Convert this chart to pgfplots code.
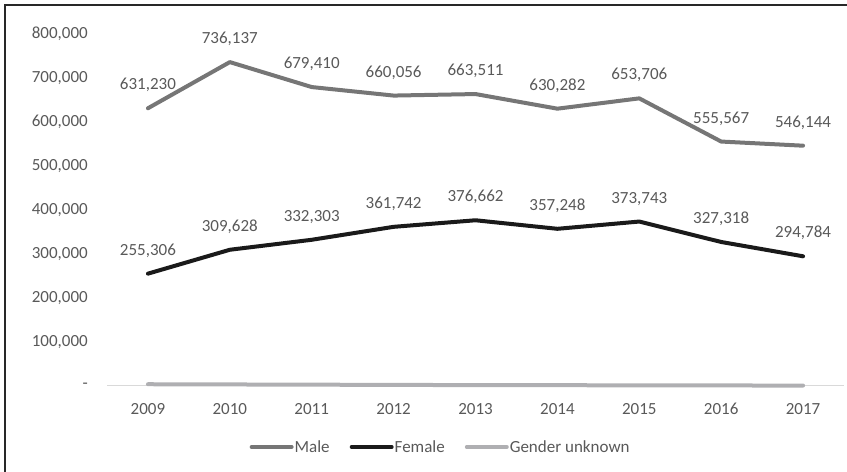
\documentclass[border=0pt]{standalone}
\usepackage{fontspec}
\setmainfont{Carlito}
\usepackage{pgfplots}
\pgfplotsset{compat=1.18}

\definecolor{maleC}{RGB}{118,118,118}
\definecolor{femaleC}{RGB}{26,26,26}
\definecolor{unkC}{RGB}{175,175,178}
\definecolor{txtC}{RGB}{89,89,89}
\definecolor{axC}{RGB}{217,217,217}
\definecolor{frameC}{RGB}{40,40,40}

\newcommand{\lbl}{\fontsize{17bp}{20bp}\selectfont}

\begin{document}
\begin{tikzpicture}[x=1bp,y=1bp]
\useasboundingbox (0,0) rectangle (847,472);
\draw[frameC, line width=1.5bp] (5,0) -- (5,467) -- (847,467);
\begin{axis}[
    at={(107bp,86bp)}, anchor=south west,
    width=737bp, height=352bp, scale only axis,
    xmin=-0.5, xmax=8.5,
    ymin=0, ymax=800000,
    xtick={0,1,2,3,4,5,6,7,8},
    xticklabels={2009,2010,2011,2012,2013,2014,2015,2016,2017},
    ytick={0,100000,200000,300000,400000,500000,600000,700000,800000},
    yticklabels={{-\hspace{9bp}},{100,000},{200,000},{300,000},{400,000},{500,000},{600,000},{700,000},{800,000}},
    scaled y ticks=false,
    axis x line=bottom, axis y line=left,
    x axis line style={axC, line width=1bp, -},
    y axis line style={draw=none},
    major tick length=0pt,
    tick label style={font=\lbl, text=txtC},
    yticklabel style={anchor=east, inner sep=0pt, xshift=-19bp},
    xticklabel style={anchor=base, inner sep=0pt, yshift=-29bp},
    clip=false,
    every node near coord/.append style={anchor=base, yshift=18.5bp, inner sep=0pt, font=\lbl, text=txtC},
    legend columns=3,
    legend style={at={(axis description cs:0.452,-0.1733)}, anchor=center,
        draw=none, fill=none, font=\lbl, text=txtC,
        nodes={inner sep=1bp},
        /tikz/every even column/.append style={column sep=19bp}},
    legend image code/.code={\draw[#1] (0bp,0bp) -- (40bp,0bp);},
]

\addplot[color=maleC, line width=4bp, line cap=round, line join=round,
    nodes near coords={\pgfmathprintnumber[fixed,precision=0,1000 sep={,},assume math mode=true]{\pgfplotspointmeta}}]
    coordinates {
    (0,631230)(1,736137)(2,679410)(3,660056)(4,663511)(5,630282)(6,653706)(7,555567)(8,546144)
    };

\addplot[color=femaleC, line width=4bp, line cap=round, line join=round,
    nodes near coords={\pgfmathprintnumber[fixed,precision=0,1000 sep={,},assume math mode=true]{\pgfplotspointmeta}}]
    coordinates {
    (0,255306)(1,309628)(2,332303)(3,361742)(4,376662)(5,357248)(6,373743)(7,327318)(8,294784)
    };

\addplot[color=unkC, line width=4bp, line cap=round, line join=round]
    coordinates {
    (0,4000)(1,3500)(2,3000)(3,2500)(4,2000)(5,1800)(6,1500)(7,1200)(8,1000)
    };

\legend{Male, Female, Gender unknown}
\end{axis}
\end{tikzpicture}
\end{document}
